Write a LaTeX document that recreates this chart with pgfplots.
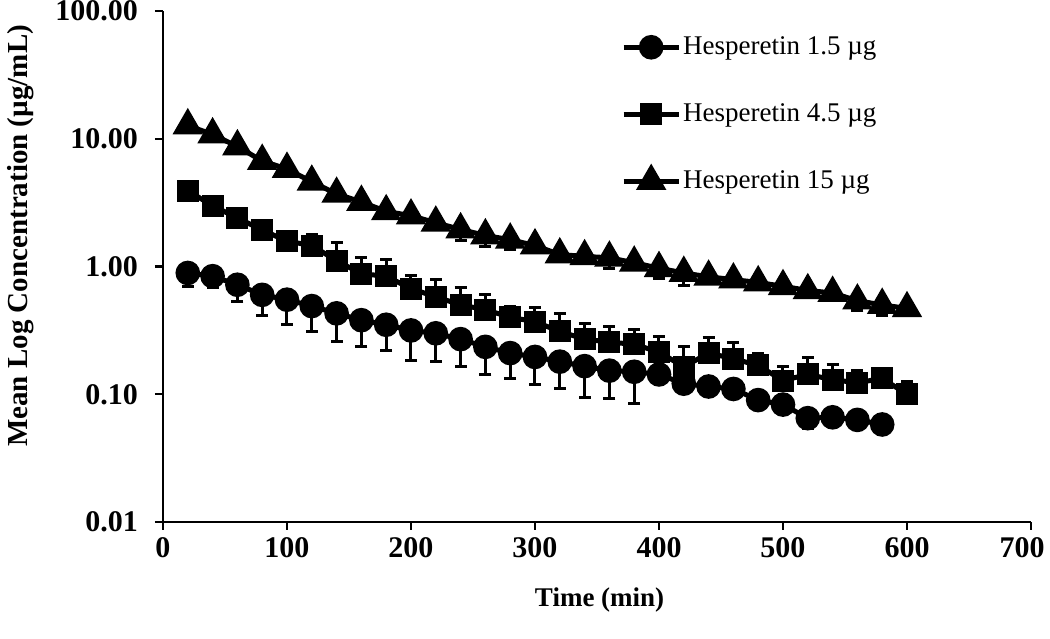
\documentclass[border=0pt]{standalone}
\usepackage{fontspec}
\setmainfont{Liberation Serif}
\usepackage{pgfplots}
\pgfplotsset{compat=1.18}
\usepackage{pgfplotstable}

\pgfplotstableread{
x y e
20 0.89 0.19
40 0.84 0.16
60 0.72 0.19
80 0.60 0.19
100 0.55 0.20
120 0.49 0.18
140 0.43 0.17
160 0.38 0.145
180 0.35 0.13
200 0.316 0.131
220 0.30 0.12
240 0.27 0.106
260 0.235 0.093
280 0.21 0.077
300 0.196 0.077
320 0.18 0.07
340 0.166 0.072
360 0.153 0.061
380 0.15 0.065
400 0.143 0
420 0.121 0
440 0.115 0
460 0.11 0
480 0.09 0
500 0.083 0
520 0.065 0.011
540 0.066 0
560 0.063 0
580 0.058 0
}\circdata

\pgfplotstableread{
x y e
20 3.92 0
40 2.99 0
60 2.40 0
80 1.93 0
100 1.58 0
120 1.46 0.32
140 1.11 0.42
160 0.877 0.30
180 0.84 0.29
200 0.67 0.18
220 0.58 0.21
240 0.50 0.19
260 0.46 0.14
280 0.40 0.09
300 0.37 0.11
320 0.31 0.12
340 0.27 0.09
360 0.256 0.084
380 0.246 0.074
400 0.214 0.07
420 0.164 0.073
440 0.21 0.07
460 0.19 0.066
480 0.168 0.042
500 0.128 0.038
520 0.143 0.05
540 0.13 0.042
560 0.123 0.031
580 0.133 0
600 0.10 0.026
}\squaredata

\pgfplotstableread{
x y e
20 12.7 0
40 10.8 0
60 8.7 0
80 6.7 0
100 5.8 0
120 4.6 0
140 3.7 0
160 3.2 0
180 2.7 0
200 2.5 0
220 2.2 0
240 1.95 0.35
260 1.75 0.32
280 1.62 0.26
300 1.46 0
320 1.24 0
340 1.2 0
360 1.17 0.21
380 1.07 0
400 0.97 0.17
420 0.89 0.18
440 0.83 0
460 0.79 0
480 0.75 0
500 0.70 0
520 0.65 0
540 0.62 0
560 0.54 0.09
580 0.50 0.09
600 0.47 0
}\tridata

\begin{document}
\begin{tikzpicture}
\path[use as bounding box] (-81.5pt,-58pt) rectangle (443.5pt,261pt);
\begin{axis}[
  at={(0pt,0pt)}, anchor=south west,
  scale only axis, width=434pt, height=255.5pt,
  xmin=0, xmax=700, ymin=0.01, ymax=100, ymode=log,
  axis x line*=bottom, axis y line*=left,
  axis line style={line width=1.2pt},
  tick align=outside, major tick length=4pt,
  tick style={line width=1.2pt, black},
  xtick={0,100,...,700},
  xticklabels={0,100,200,300,400,500,600,{\hspace{-9pt}700}},
  ytick={0.01,0.1,1,10,100},
  yticklabels={0.01,0.10,1.00,10.00,100.00},
  yminorticks=false,
  ticklabel style={font=\fontsize{15}{18}\selectfont\bfseries},
  yticklabel style={xshift=-5pt},
  xlabel={Time (min)},
  ylabel={Mean Log Concentration (µg/mL)},
  xlabel style={font=\fontsize{13.5}{16}\selectfont\bfseries, at={(axis description cs:0.503,-0.153)}, anchor=center},
  ylabel style={font=\fontsize{14.5}{17}\selectfont\bfseries, at={(axis description cs:-0.164,0.56)}, anchor=center},
  legend style={at={(rel axis cs:0.5205,0.962)}, anchor=north west, draw=none, fill=none,
    font=\fontsize{13.5}{16}\selectfont, row sep=21pt,
    nodes={inner sep=1pt}},
  legend cell align=left,
  legend image code/.code={\draw[mark repeat=2, mark phase=2, #1] plot coordinates {(0pt,0pt) (13.75pt,0pt) (27.5pt,0pt)};},
  error bars/error bar style={line width=1.5pt, black},
  error bars/error mark options={rotate=90, mark size=3pt, line width=1.5pt, black},
]
\addplot[black, line width=2.5pt, mark=*, mark size=4.9pt, mark options={solid, fill=black, draw=black},
  error bars/.cd, y dir=minus, y explicit]
  table[x=x, y=y, y error=e] {\circdata};
\addlegendentry{Hesperetin 1.5 µg}
\addplot[black, line width=2.5pt, mark=square*, mark size=4.25pt, mark options={solid, fill=black, draw=black},
  error bars/.cd, y dir=plus, y explicit]
  table[x=x, y=y, y error=e] {\squaredata};
\addlegendentry{Hesperetin 4.5 µg}
\addplot[black, line width=2.5pt, mark=triangle*, mark size=6.3pt, mark options={solid, fill=black, draw=black},
  error bars/.cd, y dir=minus, y explicit]
  table[x=x, y=y, y error=e] {\tridata};
\addlegendentry{Hesperetin 15 µg}
\end{axis}
\end{tikzpicture}
\end{document}
